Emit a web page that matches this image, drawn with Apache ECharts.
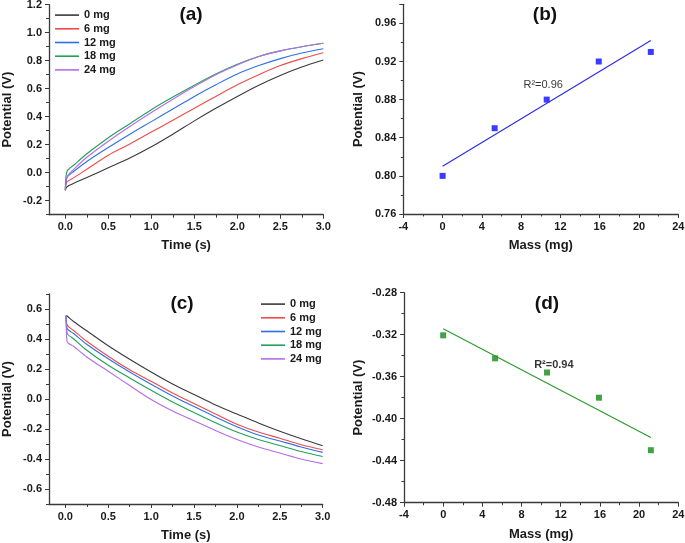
<!DOCTYPE html>
<html>
<head>
<meta charset="utf-8">
<script src="https://cdn.jsdelivr.net/npm/echarts@6/dist/echarts.min.js"></script>
<style>html,body{margin:0;padding:0;background:#fff}#c{width:685px;height:543px}</style>
</head>
<body>
<div id="c"></div>
<script>
// ---------- DATA ----------
const seriesNames = ['0 mg', '6 mg', '12 mg', '18 mg', '24 mg'];
// (a) charging curves
const timeA = [0, 0.02, 0.1, 0.25, 0.5, 0.75, 1.0, 1.25, 1.5, 1.75, 2.0, 2.25, 2.5, 2.75, 3.0];
const a0mg  = [-0.125, -0.10, -0.075, -0.035, 0.035, 0.105, 0.185, 0.275, 0.37, 0.46, 0.545, 0.625, 0.695, 0.755, 0.805];
const a6mg  = [-0.125, -0.065, -0.035, 0.025, 0.125, 0.205, 0.29, 0.375, 0.46, 0.545, 0.628, 0.70, 0.765, 0.815, 0.857];
const a12mg = [-0.125, -0.035, 0.01, 0.08, 0.18, 0.275, 0.365, 0.455, 0.545, 0.628, 0.705, 0.765, 0.815, 0.855, 0.885];
const a18mg = [-0.125, 0.01, 0.055, 0.135, 0.25, 0.35, 0.45, 0.54, 0.625, 0.705, 0.775, 0.83, 0.87, 0.90, 0.925];
const a24mg = [-0.125, -0.03, 0.025, 0.11, 0.225, 0.33, 0.43, 0.525, 0.615, 0.70, 0.77, 0.83, 0.87, 0.90, 0.925];
// (c) discharging curves
const timeC = [0.01, 0.02, 0.1, 0.25, 0.5, 0.75, 1.0, 1.25, 1.5, 1.75, 2.0, 2.25, 2.5, 2.75, 3.0];
const c0mg  = [0.557, 0.553, 0.515, 0.455, 0.355, 0.265, 0.18, 0.10, 0.03, -0.04, -0.10, -0.16, -0.215, -0.265, -0.311];
const c6mg  = [0.557, 0.495, 0.455, 0.385, 0.285, 0.195, 0.118, 0.04, -0.03, -0.10, -0.168, -0.22, -0.262, -0.305, -0.338];
const c12mg = [0.557, 0.473, 0.435, 0.365, 0.268, 0.18, 0.098, 0.02, -0.05, -0.12, -0.185, -0.24, -0.28, -0.32, -0.356];
const c18mg = [0.557, 0.44, 0.40, 0.325, 0.225, 0.14, 0.058, -0.02, -0.09, -0.158, -0.22, -0.27, -0.31, -0.35, -0.383];
const c24mg = [0.557, 0.384, 0.35, 0.28, 0.185, 0.09, -0.003, -0.08, -0.145, -0.21, -0.27, -0.32, -0.36, -0.40, -0.431];
// (b), (d) potential vs mass
const massVals = [0, 5.3, 10.6, 15.9, 21.2];
const chargeV = [0.80, 0.85, 0.88, 0.92, 0.93];
const dischargeV = [-0.3206, -0.3425, -0.356, -0.38, -0.43];
const fitMass = [0, 21.2];
const fitChargeV = [0.810, 0.942];
const fitDischargeV = [-0.3143, -0.418];
const r2Charge = 'R²=0.96';
const r2Discharge = 'R²=0.94';
const r2ChargeAt = [10.24, 0.8952];
const r2DischargeAt = [11.3, -0.3493];
// tick values
const timeTicks = [0, 0.5, 1.0, 1.5, 2.0, 2.5, 3.0];
const timeMinor = [0.25, 0.75, 1.25, 1.75, 2.25, 2.75];
const yTicksA = [-0.2, 0, 0.2, 0.4, 0.6, 0.8, 1.0, 1.2];
const yMinorA = [-0.3, -0.1, 0.1, 0.3, 0.5, 0.7, 0.9, 1.1];
const yTicksC = [-0.6, -0.4, -0.2, 0, 0.2, 0.4, 0.6];
const yMinorC = [-0.7, -0.5, -0.3, -0.1, 0.1, 0.3, 0.5, 0.7];

// ---------- STYLE ----------
const FONT = 'Liberation Sans, Arial, sans-serif';
const colors = ['#3a3a3a', '#f24a4a', '#2e6fe3', '#20a058', '#b56cea'];
const axisColor = '#3a3a3a';
const labelStyle = {color: '#1a1a1a', fontFamily: FONT, fontWeight: 'bold', fontSize: 11};
const nameStyle = {color: '#1a1a1a', fontFamily: FONT, fontWeight: 'bold', fontSize: 13};

function zip(xs, ys) { return xs.map((x, i) => [x, ys[i]]); }

function mainX(grid, min, max, extra) {
  return Object.assign({
    type: 'value', gridIndex: grid, min: min, max: max, position: 'bottom',
    splitLine: {show: false},
    axisLine: {show: true, onZero: false, lineStyle: {color: axisColor, width: 1.3}},
    axisTick: {show: true, inside: false, length: 4, lineStyle: {color: axisColor, width: 1}},
    axisLabel: Object.assign({margin: 7}, labelStyle),
    nameLocation: 'middle', nameMoveOverlap: false, nameTextStyle: nameStyle
  }, extra);
}
function mainY(grid, min, max, extra) {
  return Object.assign({
    type: 'value', gridIndex: grid, min: min, max: max, position: 'left',
    splitLine: {show: false},
    axisLine: {show: true, onZero: false, lineStyle: {color: axisColor, width: 1.3}},
    axisTick: {show: true, inside: false, length: 4, lineStyle: {color: axisColor, width: 1}},
    axisLabel: Object.assign({margin: 7}, labelStyle),
    nameLocation: 'middle', nameMoveOverlap: false, nameTextStyle: nameStyle
  }, extra);
}
function minorAxis(grid, min, max, pos, vals) {
  return {
    type: 'value', gridIndex: grid, min: min, max: max, position: pos, offset: 0,
    splitLine: {show: false}, axisLine: {show: false, onZero: false}, axisLabel: {show: false},
    axisTick: {show: true, length: 3, customValues: vals, lineStyle: {color: axisColor, width: 1}}
  };
}

const lineSeries = (xi, yi, name, xs, ys, color) => ({
  type: 'line', name: name, xAxisIndex: xi, yAxisIndex: yi,
  data: zip(xs, ys), showSymbol: false, symbol: 'none', smooth: 0.3,
  lineStyle: {color: color, width: 1.1}, itemStyle: {color: color}, animation: false
});

const aSets = [a0mg, a6mg, a12mg, a18mg, a24mg];
const cSets = [c0mg, c6mg, c12mg, c18mg, c24mg];

const series = [];
aSets.forEach((s, i) => series.push(lineSeries(0, 0, seriesNames[i], timeA, s, colors[i])));
cSets.forEach((s, i) => series.push(lineSeries(4, 4, seriesNames[i], timeC, s, colors[i])));
// (b)
series.push({type: 'line', xAxisIndex: 2, yAxisIndex: 2, data: zip(fitMass, fitChargeV), symbol: 'none',
  lineStyle: {color: '#2a2ae8', width: 1.1}, animation: false, silent: true});
series.push({type: 'scatter', xAxisIndex: 2, yAxisIndex: 2, data: zip(massVals, chargeV), symbol: 'rect',
  symbolSize: 6, itemStyle: {color: '#0a0aff'}, animation: false});
series.push({type: 'scatter', xAxisIndex: 2, yAxisIndex: 2, data: [r2ChargeAt], symbolSize: 0, animation: false, silent: true,
  label: {show: true, position: 'inside', formatter: r2Charge, color: '#000', fontFamily: FONT, fontSize: 11, fontWeight: 'normal'}});
// (d)
series.push({type: 'line', xAxisIndex: 6, yAxisIndex: 6, data: zip(fitMass, fitDischargeV), symbol: 'none',
  lineStyle: {color: '#2a9a2a', width: 1.1}, animation: false, silent: true});
series.push({type: 'scatter', xAxisIndex: 6, yAxisIndex: 6, data: zip(massVals, dischargeV), symbol: 'rect',
  symbolSize: 6, itemStyle: {color: '#138a13'}, animation: false});
series.push({type: 'scatter', xAxisIndex: 6, yAxisIndex: 6, data: [r2DischargeAt], symbolSize: 0, animation: false, silent: true,
  label: {show: true, position: 'inside', formatter: r2Discharge, color: '#000', fontFamily: FONT, fontSize: 11, fontWeight: 'bold'}});

const fmt1 = v => v.toFixed(1);
const fmt2 = v => v.toFixed(2);

const legendBase = {
  orient: 'vertical', icon: 'rect', itemWidth: 24, itemHeight: 1.6, itemGap: 1.5,
  textStyle: {color: '#1a1a1a', fontFamily: FONT, fontWeight: 'bold', fontSize: 11, lineHeight: 12.2},
  data: seriesNames, selectedMode: false
};

const titleStyle = {fontFamily: FONT, fontWeight: 'bold', fontSize: 19, color: '#111'};
const option = {
  backgroundColor: '#ffffff',
  animation: false,
  title: [
    {text: '(a)', left: 186, top: 0, textAlign: 'center', textStyle: titleStyle},
    {text: '(b)', left: 540, top: 0, textAlign: 'center', textStyle: titleStyle},
    {text: '(c)', left: 177, top: 289, textAlign: 'center', textStyle: titleStyle},
    {text: '(d)', left: 542, top: 289, textAlign: 'center', textStyle: titleStyle}
  ],
  legend: [
    Object.assign({left: 50, top: 4}, legendBase),
    Object.assign({left: 256, top: 293}, legendBase)
  ],
  grid: [
    {left: 49, top: 4.7, width: 274.3, height: 210, outerBoundsMode: 'none'},
    {left: 403.3, top: 4.3, width: 275, height: 209.7, outerBoundsMode: 'none'},
    {left: 49, top: 294, width: 273.7, height: 210, outerBoundsMode: 'none'},
    {left: 404, top: 292.7, width: 274.3, height: 210, outerBoundsMode: 'none'}
  ],
  xAxis: [
    mainX(0, -0.19, 3.0, {name: 'Time (s)', nameGap: 24, axisTick: {show: true, length: 4, customValues: timeTicks, lineStyle: {color: axisColor}}, axisLabel: Object.assign({margin: 7, customValues: timeTicks, formatter: fmt1}, labelStyle)}),
    minorAxis(0, -0.19, 3.0, 'bottom', timeMinor),
    mainX(1, -4, 24, {interval: 4, name: 'Mass (mg)', nameGap: 25, minorTick: {show: true, splitNumber: 2, length: 2.5, lineStyle: {color: axisColor}}}),
    {type: 'value', gridIndex: 1, show: false, min: -4, max: 24},
    mainX(2, -0.19, 3.0, {name: 'Time (s)', nameGap: 25, axisTick: {show: true, length: 4, customValues: timeTicks, lineStyle: {color: axisColor}}, axisLabel: Object.assign({margin: 7, customValues: timeTicks, formatter: fmt1}, labelStyle)}),
    minorAxis(2, -0.19, 3.0, 'bottom', timeMinor),
    mainX(3, -4, 24, {interval: 4, name: 'Mass (mg)', nameGap: 25, minorTick: {show: true, splitNumber: 2, length: 2.5, lineStyle: {color: axisColor}}})
  ],
  yAxis: [
    mainY(0, -0.3, 1.2, {name: 'Potential (V)', nameGap: 35, axisTick: {show: true, length: 4, customValues: yTicksA, lineStyle: {color: axisColor}}, axisLabel: Object.assign({margin: 7, customValues: yTicksA, formatter: fmt1}, labelStyle)}),
    minorAxis(0, -0.3, 1.2, 'left', yMinorA),
    mainY(1, 0.76, 0.98, {interval: 0.04, name: 'Potential (V)', nameGap: 38, axisLabel: Object.assign({margin: 7, formatter: fmt2, showMaxLabel: false}, labelStyle), minorTick: {show: true, splitNumber: 2, length: 2.5, lineStyle: {color: axisColor}}}),
    {type: 'value', gridIndex: 1, show: false, min: 0.76, max: 0.98},
    mainY(2, -0.7, 0.7, {name: 'Potential (V)', nameGap: 35, axisTick: {show: true, length: 4, customValues: yTicksC, lineStyle: {color: axisColor}}, axisLabel: Object.assign({margin: 7, customValues: yTicksC, formatter: fmt1}, labelStyle)}),
    minorAxis(2, -0.7, 0.7, 'left', yMinorC),
    mainY(3, -0.48, -0.28, {interval: 0.04, name: 'Potential (V)', nameGap: 39, axisLabel: Object.assign({margin: 7, formatter: fmt2}, labelStyle), minorTick: {show: true, splitNumber: 2, length: 2.5, lineStyle: {color: axisColor}}})
  ],
  series: series
};

const chart = echarts.init(document.getElementById('c'), null, {renderer: 'canvas'});
chart.setOption(option);
</script>
</body>
</html>
